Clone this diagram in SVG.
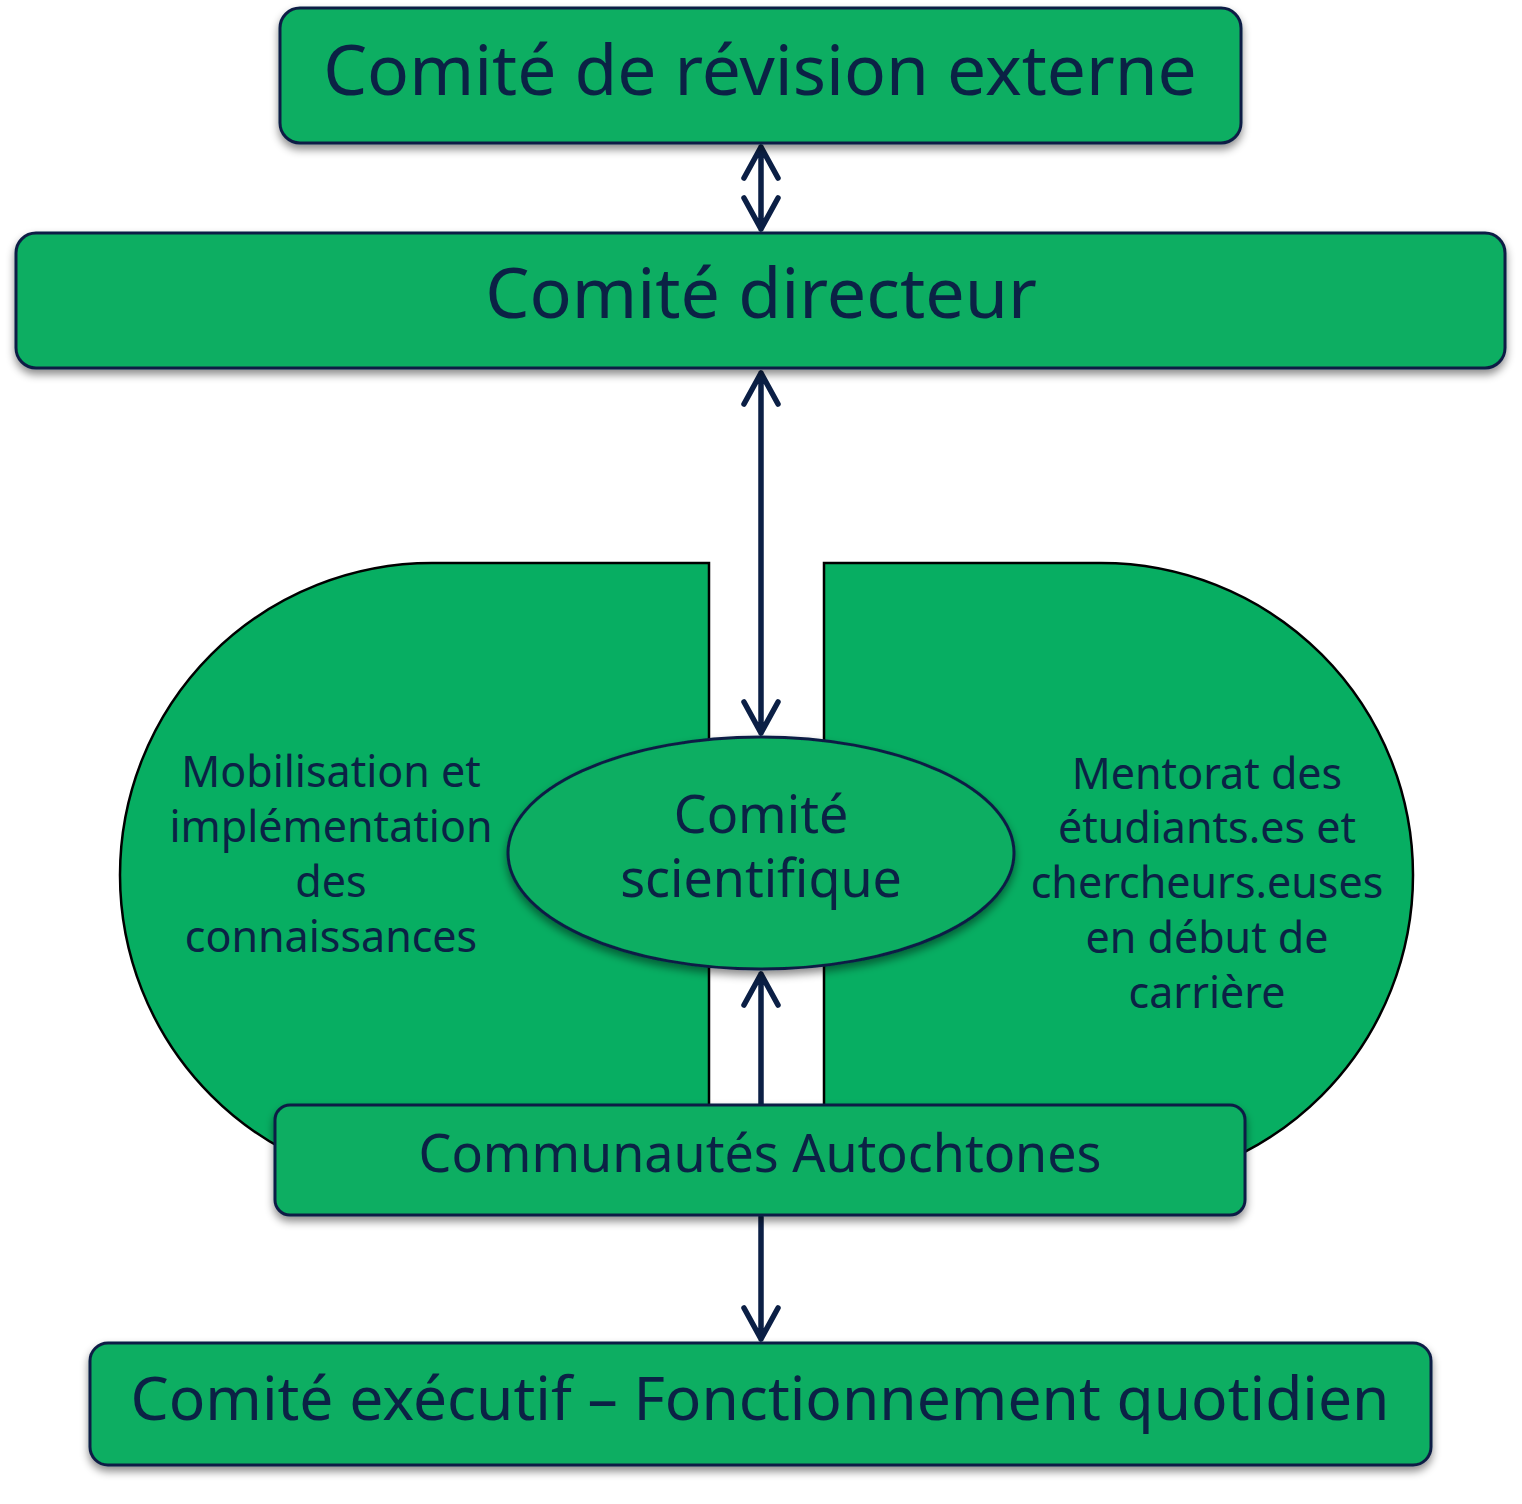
<svg xmlns="http://www.w3.org/2000/svg" width="1522" height="1504" viewBox="0 0 1522 1504">
<style>
.box{fill:#07AE62;stroke:#0B1F45;stroke-width:3}
.half{fill:#07AE62;stroke:#000;stroke-width:2.5}
.t{font-family:"Noto Sans","Open Sans",sans-serif;fill:#0B2245;text-anchor:middle}
.c{fill:none;stroke:#0B1F45;stroke-width:5.5;stroke-linecap:round;stroke-linejoin:round}
</style>
<defs>
<filter id="sh" x="-10%" y="-20%" width="120%" height="150%">
<feDropShadow dx="0" dy="5" stdDeviation="4" flood-color="#000" flood-opacity="0.45"/>
</filter>
</defs>
<rect width="1522" height="1504" fill="#fff"/>
<g id="mobilisation">
<path class="half" d="M709,563 H432 A312,312 0 0 0 432,1187 H709 Z"/>
<text class="t" font-size="43" x="331"><tspan x="331" y="787">Mobilisation et</tspan><tspan x="331" y="842">implémentation</tspan><tspan x="331" y="897">des</tspan><tspan x="331" y="952">connaissances</tspan></text>
</g>
<g id="mentorat">
<path class="half" d="M824,563 H1101 A312,312 0 0 1 1101,1187 H824 Z"/>
<text class="t" font-size="43" x="1207"><tspan x="1207" y="789">Mentorat des</tspan><tspan x="1207" y="843">étudiants.es et</tspan><tspan x="1207" y="898">chercheurs.euses</tspan><tspan x="1207" y="953">en début de</tspan><tspan x="1207" y="1008">carrière</tspan></text>
</g>
<g id="connectors">
<path class="c" d="M761,147 V229 M744,178 L761,147 L778,178 M744,198 L761,229 L778,198"/>
<path class="c" d="M761,373 V733 M744,404 L761,373 L778,404 M744,702 L761,733 L778,702"/>
<path class="c" d="M761,1105 V974 M744,1005 L761,974 L778,1005"/>
<path class="c" d="M761,1217 V1339 M744,1308 L761,1339 L778,1308"/>
</g>
<g id="revision">
<rect class="box" filter="url(#sh)" x="280" y="8" width="961" height="135" rx="20"/>
<text class="t" font-size="69.5" x="760" y="95">Comité de révision externe</text>
</g>
<g id="directeur">
<rect class="box" filter="url(#sh)" x="16" y="233" width="1489" height="135" rx="20"/>
<text class="t" font-size="70" x="761" y="318">Comité directeur</text>
</g>
<g id="scientifique">
<ellipse class="box" filter="url(#sh)" cx="761" cy="853" rx="253" ry="116"/>
<text class="t" font-size="52" x="761"><tspan x="761" y="833">Comité</tspan><tspan x="761" y="897">scientifique</tspan></text>
</g>
<g id="communautes">
<rect class="box" filter="url(#sh)" x="275" y="1105" width="970" height="110" rx="15"/>
<text class="t" font-size="52" x="760" y="1172">Communautés Autochtones</text>
</g>
<g id="executif">
<rect class="box" filter="url(#sh)" x="90" y="1343" width="1341" height="122" rx="18"/>
<text class="t" font-size="60.5" x="760" y="1420">Comité exécutif – Fonctionnement quotidien</text>
</g>
</svg>
